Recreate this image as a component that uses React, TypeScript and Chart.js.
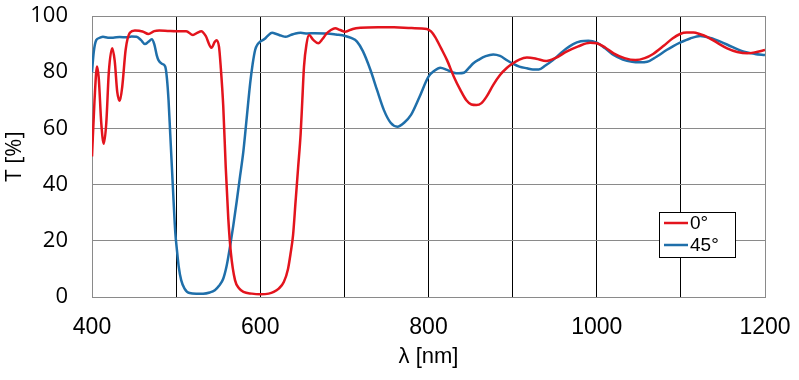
import React, { useEffect, useRef } from "react";
import { Chart, registerables } from "chart.js";

Chart.register(...registerables);

const wl0 = [400,403,406,408,411,414,417,420,424,427,430,433,436,440,445,451,460,467,474,480,490,500,512,520,525,530,535,542,546,548,551,553,556,559,562,565,570,575,580,590,600,610,616,622,628,633,636,639,642,645,648,650,652,655,658,663,669,674,679,684,689,695,701,710,719,740,759,780,798,803,808,815,822,830,838,845,851,857,863,869,877,885,893,900,908,917,928,940,952,964,978,992,1000,1010,1020,1033,1046,1057,1067,1080,1090,1099,1107,1115,1123,1131,1143,1155,1167,1179,1190,1200];
const t0 = [50,70,82,78,62,54.5,62,80,88.5,84,73,69.8,75,88,94,94.8,94.5,93.6,94.6,94.8,94.7,94.6,94.6,93.2,94,94.6,93,88.7,90.8,91.4,89,82,68,46,28,16,6,3,1.8,1.2,1,1.2,1.8,3,5.3,10,15.4,22,34,46,58,70,82,90,93.2,91.5,90.3,91.8,93.8,95,95.6,95,94.4,95.4,95.8,96,96,95.7,95.4,94.5,92.5,88.5,84.3,78.5,73.6,70,68.5,68.3,69,71.3,75.5,79,81.5,83.1,84.5,85.2,84.8,84,85.2,87.3,89.2,90.5,90.3,88.8,86.7,85,84.3,85,86.5,89.5,92,93.6,94.1,94.1,93.5,92.6,90.5,88.5,87.2,86.7,87.2,87.9];

const wl45 = [400,402,405,409,413,419,425,433,441,447,453,458,463,467,471,474,477,479,483,487,489,491,493,495,497,499,501,503,506,510,516,524,532,540,546,551,556,560,564,568,572,576,580,584,588,591,594,597,600,605,609,614,620,625,630,636,642,648,656,665,679,690,701,708,715,722,731,739,747,755,763,771,779,789,800,807,814,822,830,836,842,848,853,860,868,877,885,893,900,908,917,924,931,939,948,960,972,981,990,1000,1010,1020,1031,1042,1051,1060,1071,1083,1091,1099,1111,1123,1135,1147,1161,1175,1188,1200];
const t45 = [80,87,91.4,92.2,92.6,92.3,92.3,92.5,92.4,92.7,92.6,91.5,90,90.8,91.7,90,86,84.3,83,82,78,70,58,46,34,23,16.6,11,6,3,1.4,1.2,1.2,1.6,2.4,4,6.5,11,17.8,25.5,34,43,52,64,76,83,88,90,90.9,91.8,93,94,93.5,93,92.6,93.2,93.8,94,93.8,93.9,93.8,93.4,92.9,92.2,90.9,87.5,80.8,73.5,66.5,62,60.6,62,64.7,71,78.4,80.5,81.6,80.8,79.8,79.6,79.8,81.5,83.1,84.5,85.7,86.3,85.8,84.3,83.1,82,81.4,81,81,82.4,84.3,87.5,90,91,91.2,90.5,88.5,86.1,84.5,83.7,83.5,83.7,85.5,87.9,89.3,90.5,92,92.9,92.2,90.9,89,87.3,86.5,86.1];

const seriesNames = ["0°", "45°"];
const seriesColors = ["#e3141d", "#1f6faa"];
const xLabelTicks = [400, 600, 800, 1000, 1200];

const legendPlugin = {
  id: "customLegend",
  afterDraw(chart: any) {
    const ctx = chart.ctx;
    ctx.save();
    const bx = 659.5, by = 212.5, bw = 76, bh = 45;
    ctx.fillStyle = "#ffffff";
    ctx.fillRect(bx, by, bw, bh);
    ctx.strokeStyle = "#000000";
    ctx.lineWidth = 1;
    ctx.strokeRect(bx, by, bw, bh);
    const rows = [223, 245];
    seriesNames.forEach((name, i) => {
      ctx.strokeStyle = seriesColors[i];
      ctx.lineWidth = 2.5;
      ctx.beginPath();
      ctx.moveTo(664, rows[i]);
      ctx.lineTo(688, rows[i]);
      ctx.stroke();
      ctx.fillStyle = "#000";
      ctx.font = '19px "Liberation Sans", Arial, sans-serif';
      ctx.textBaseline = "middle";
      ctx.textAlign = "left";
      ctx.fillText(name, 690, rows[i] + 1);
    });
    ctx.restore();
  },
};

export default function App() {
  const ref = useRef<HTMLCanvasElement | null>(null);
  useEffect(() => {
    if (!ref.current) return;
    const chart = new Chart(ref.current, {
      type: "line",
      data: {
        datasets: [
          {
            label: seriesNames[0],
            data: wl0.map((x, i) => ({ x, y: t0[i] })),
            borderColor: seriesColors[0],
            borderWidth: 2.5,
            pointRadius: 0,
            cubicInterpolationMode: "monotone",
            fill: false,
          },
          {
            label: seriesNames[1],
            data: wl45.map((x, i) => ({ x, y: t45[i] })),
            borderColor: seriesColors[1],
            borderWidth: 2.5,
            pointRadius: 0,
            cubicInterpolationMode: "monotone",
            fill: false,
          },
        ],
      },
      options: {
        responsive: false,
        animation: false,
        layout: { padding: { top: 16, right: 34, left: 0, bottom: 0 } },
        plugins: { legend: { display: false }, tooltip: { enabled: false } },
        scales: {
          x: {
            type: "linear",
            min: 400,
            max: 1200,
            afterFit(scale: any) {
              scale.height = 83;
              scale.paddingLeft = 0;
              scale.paddingRight = 0;
            },
            ticks: {
              stepSize: 100,
              autoSkip: false,
              maxRotation: 0,
              padding: 17,
              color: "#000",
              font: { family: '"Liberation Sans", Arial, sans-serif', size: 23 },
              callback: (v: any) => (xLabelTicks.includes(Number(v)) ? String(v) : ""),
            },
            grid: {
              drawTicks: false,
              lineWidth: 1,
              color: (c: any) => (c.tick && (c.tick.value === 400 || c.tick.value === 1200) ? "#8a8a8a" : "#000000"),
            },
            border: { display: true, color: "#8a8a8a", width: 1 },
            title: {
              display: true,
              text: "λ [nm]",
              color: "#000",
              font: { family: '"Liberation Sans", Arial, sans-serif', size: 22 },
              padding: { top: 0, bottom: 10 },
            },
          },
          y: {
            min: 0,
            max: 100,
            afterFit(scale: any) {
              scale.width = 92;
              scale.paddingTop = 0;
              scale.paddingBottom = 0;
            },
            ticks: {
              stepSize: 20,
              padding: 24,
              color: "#000",
              font: { family: '"Open Sans", sans-serif', size: 22 },
            },
            grid: { drawTicks: false, color: "#8a8a8a", lineWidth: 1 },
            border: { display: true, color: "#8a8a8a", width: 1 },
            title: {
              display: true,
              text: "T [%]",
              color: "#000",
              font: { family: '"Open Sans", sans-serif', size: 22 },
              padding: { top: 2, bottom: 0 },
            },
          },
        },
      },
      plugins: [legendPlugin],
    } as any);
    return () => chart.destroy();
  }, []);
  return (
    <div style={{ position: "absolute", left: 0, top: 0, width: 799, height: 380, background: "#fff" }}>
      <canvas ref={ref} width={799} height={380} />
    </div>
  );
}
